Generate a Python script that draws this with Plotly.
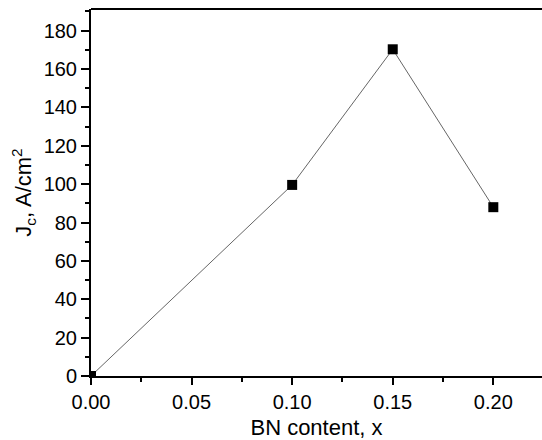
import plotly.graph_objects as go

bn_content = [0.0, 0.10, 0.15, 0.20]
jc_values = [0.0, 99.6, 170.3, 88.0]
x_tick_vals = [0.0, 0.05, 0.10, 0.15, 0.20]
x_tick_text = ["0.00", "0.05", "0.10", "0.15", "0.20"]
y_tick_vals = [0, 20, 40, 60, 80, 100, 120, 140, 160, 180]

fig = go.Figure()
fig.add_trace(go.Scatter(
    x=bn_content, y=jc_values, mode="lines+markers",
    line=dict(color="#666666", width=1),
    marker=dict(symbol="square", size=10, color="black", line=dict(width=0)),
    cliponaxis=True, showlegend=False,
))

font = "Liberation Sans, Arial, sans-serif"
fig.update_layout(
    width=542, height=440,
    margin=dict(l=91, r=0, t=9, b=64),
    paper_bgcolor="white", plot_bgcolor="white",
    font=dict(family=font, color="black"),
    xaxis=dict(
        range=[0, 0.2242], tickvals=x_tick_vals, ticktext=x_tick_text,
        ticks="outside", ticklen=7, tickwidth=1.5, tickcolor="black",
        minor=dict(dtick=0.025, tick0=0, ticks="outside", ticklen=4, tickwidth=1.5, tickcolor="black"),
        showline=True, linewidth=2, linecolor="black", showgrid=False, zeroline=False,
        tickfont=dict(size=20, family=font),
        title=dict(text="BN content, x", font=dict(size=22, family=font), standoff=10),
        automargin=False,
    ),
    yaxis=dict(
        range=[0, 191.3], tickvals=y_tick_vals,
        ticks="outside", ticklen=8, tickwidth=1.5, tickcolor="black",
        minor=dict(dtick=10, tick0=0, ticks="outside", ticklen=4, tickwidth=1.5, tickcolor="black"),
        showline=True, linewidth=2, linecolor="black", showgrid=False, zeroline=False,
        tickfont=dict(size=20, family=font),
        title=dict(text="J<sub>c</sub>, A/cm<sup>2</sup>", font=dict(size=22, family=font), standoff=6),
        automargin=False,
    ),
    shapes=[dict(type="line", xref="paper", yref="paper", x0=0, x1=1, y0=1, y1=1,
                 line=dict(color="black", width=2))],
)

fig.write_html("out.html", config={"displayModeBar": False},
               post_script="document.body.style.margin='0';")
